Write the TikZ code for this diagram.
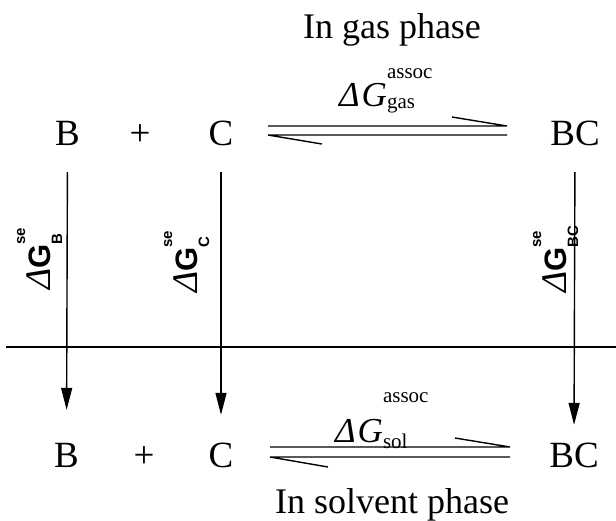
\documentclass[tikz,border=0pt]{standalone}
\usepackage{fontspec}
\setmainfont{Liberation Serif}
\newfontfamily\sfb{Liberation Sans}
\usetikzlibrary{arrows.meta,calc}
\newcommand{\dGh}[3]{{\fontsize{35}{35}\selectfont\itshape Δ\kern2pt G}\rlap{\raisebox{#2}{\fontsize{21}{21}\selectfont assoc}}\raisebox{-#3}{\fontsize{21}{21}\selectfont #1}}
\newcommand{\dGv}[1]{{\fontsize{36}{36}\selectfont\itshape Δ}{\sfb\bfseries\fontsize{31}{31}\selectfont G}\rlap{\raisebox{25pt}{\sfb\bfseries\fontsize{15}{15}\selectfont se}}\raisebox{-12pt}{\sfb\bfseries\fontsize{15}{15}\selectfont #1}}
\begin{document}
\begin{tikzpicture}[x=1pt,y=-1pt,
  chem/.style={font=\fontsize{37}{40}\selectfont, inner sep=0pt, text height=25pt, text depth=0pt, anchor=base},
  title/.style={font=\fontsize{36}{40}\selectfont, inner sep=0pt, anchor=base},
  lbl/.style={inner sep=0pt, anchor=base west},
  vlbl/.style={inner sep=0pt, anchor=base west, rotate=90},
  varrow/.style={line width=1.4pt, -{Triangle[length=22pt,width=11pt]}},
  harp/.style={line width=1.4pt, line cap=butt, line join=miter}
]
\useasboundingbox (0,0) rectangle (616,520);
\fill[white] (0,0) rectangle (616,520);

% titles
\node[title] (tgas) at (392,38) {In gas phase};
\node[title] (tsol) at (392,513) {In solvent phase};

% top row
\node[chem] (B1) at (67.5,145) {B};
\node[chem] (P1) at (140,145) {+};
\node[chem] (C1) at (221,145) {C};
\node[chem] (BC1) at (575,145) {BC};

% bottom row
\node[chem] (B2) at (66.5,467) {B};
\node[chem] (P2) at (144,467) {+};
\node[chem] (C2) at (221,467) {C};
\node[chem] (BC2) at (574,467) {BC};

% divider
\draw[line width=1.4pt] (6,347) -- (616,347);

% vertical arrows
\draw[varrow, shorten <=27pt, shorten >=32pt] (B1.south) -- (B2.north);
\draw[varrow, shorten <=27pt, shorten >=27pt] (C1.south) -- (C2.north);
\draw[varrow, shorten <=27pt, shorten >=17pt] (BC1.south) -- (BC2.north);

% harpoons top (upper line y=126, lower line y=135)
\draw[harp] ($(C1.base)+(47,-19)$) -- ($(BC1.base)+(-68,-19)$) -- ++(-55,-9);
\draw[harp] ($(C1.base)+(47,-10)+(54,9)$) -- ($(C1.base)+(47,-10)$) -- ($(BC1.base)+(-68,-10)$);
% harpoons bottom (upper line y=447, lower line y=457)
\draw[harp] ($(C2.base)+(49,-20)$) -- ($(BC2.base)+(-64,-20)$) -- ++(-55,-9);
\draw[harp] ($(C2.base)+(49,-10)+(58,10)$) -- ($(C2.base)+(49,-10)$) -- ($(BC2.base)+(-64,-10)$);

% horizontal labels
\node[lbl] (Lgas) at (339,106) {\dGh{gas}{28pt}{2pt}};
\node[lbl] (Lsol) at (335,442) {\dGh{sol}{40pt}{6pt}};

% vertical labels
\node[vlbl] (LB) at (50,290) {\dGv{B}};
\node[vlbl] (LC) at (197,293) {\dGv{C}};
\node[vlbl] (LBC) at (566,293) {\dGv{BC}};
\end{tikzpicture}
\end{document}
